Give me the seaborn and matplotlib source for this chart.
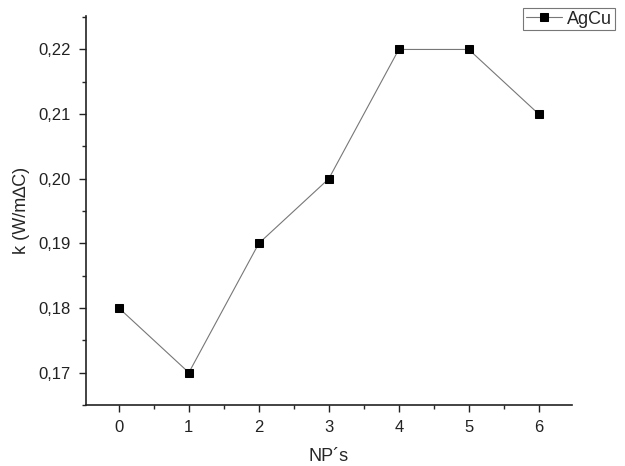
import pandas as pd
import seaborn as sns
import matplotlib.pyplot as plt
from matplotlib.ticker import MultipleLocator, FuncFormatter

# Data
nps = [0, 1, 2, 3, 4, 5, 6]
k_values = [0.18, 0.17, 0.19, 0.20, 0.22, 0.22, 0.21]

df = pd.DataFrame({"NP's": nps, 'k': k_values})

sns.set_style('ticks')
plt.rcParams['font.family'] = ['Liberation Sans', 'DejaVu Sans']

fig = plt.figure(figsize=(6.25, 4.66), dpi=100)
ax = fig.add_axes([0.1376, 0.131, 0.777, 0.835])

sns.lineplot(data=df, x="NP's", y='k', ax=ax, color='#777777', linewidth=0.8,
             marker='s', markersize=6, markerfacecolor='black', markeredgecolor='black',
             label='AgCu')

ax.set_xlim(-0.47, 6.47)
ax.set_ylim(0.165, 0.2252)
ax.xaxis.set_major_locator(MultipleLocator(1))
ax.xaxis.set_minor_locator(MultipleLocator(0.5))
ax.yaxis.set_major_locator(MultipleLocator(0.01))
ax.yaxis.set_minor_locator(MultipleLocator(0.005))
ax.yaxis.set_major_formatter(FuncFormatter(lambda v, p: f'{v:.2f}'.replace('.', ',')))

ax.tick_params(which='major', direction='out', length=5, width=1, labelsize=12,
               colors='#222222', pad=6)
ax.tick_params(which='minor', direction='out', length=3, width=1)
for side in ['top', 'right']:
    ax.spines[side].set_visible(False)
for side in ['left', 'bottom']:
    ax.spines[side].set_linewidth(1.2)
    ax.spines[side].set_color('#222222')

ax.set_xlabel("NP´s", fontsize=13, labelpad=9)
ax.set_ylabel('k (W/m\u2206C)', fontsize=13, labelpad=6)

leg = ax.legend(loc='upper left', bbox_to_anchor=(0.9, 1.02), fontsize=13,
                frameon=True, fancybox=False, edgecolor='#555555', handlelength=2.0,
                borderpad=0.15, handletextpad=0.3, borderaxespad=0)
leg.get_frame().set_linewidth(0.8)

fig.savefig('out.png', dpi=100)
